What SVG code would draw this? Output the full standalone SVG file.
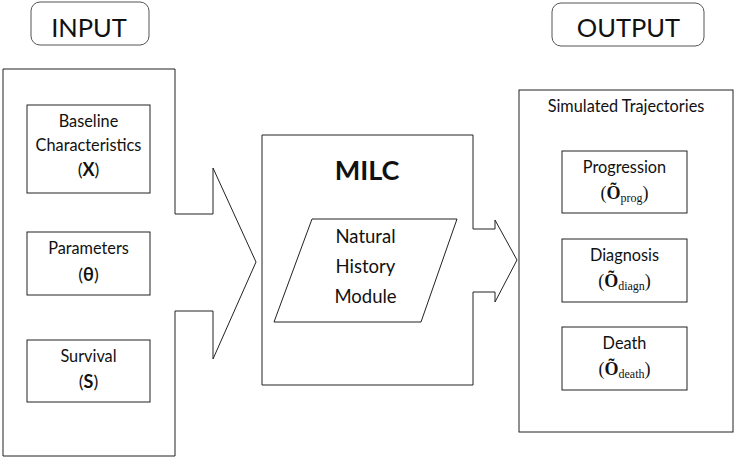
<svg xmlns="http://www.w3.org/2000/svg" width="734" height="462" viewBox="0 0 734 462">
<style>
  .ln { fill: #ffffff; stroke: #222222; stroke-width: 1; }
  .hd { fill: #ffffff; stroke: #555555; stroke-width: 1; }
  .t { font-family: Lato, "Noto Sans", "DejaVu Sans", sans-serif; font-size: 16.3px; fill: #111111; text-anchor: middle; }
  .big { font-size: 25.5px; }
  .nh { font-size: 18.5px; }
  .milc { font-size: 27px; font-weight: bold; }
  .b { font-weight: bold; }
  .p { font-size: 18px; }
  .m { font-family: "Liberation Serif", "DejaVu Serif", serif; font-size: 18px; fill: #111111; text-anchor: middle; }
  .sub { font-size: 12px; }
</style>
<rect width="734" height="462" fill="#ffffff"/>
<g id="connectors"/>
<g id="input-header">
  <rect class="hd" x="31" y="2" width="118" height="43" rx="9"/>
  <text class="t big" x="89" y="37">INPUT</text>
</g>
<g id="output-header">
  <rect class="hd" x="552" y="3" width="152" height="43" rx="9"/>
  <text class="t big" x="628.5" y="37">OUTPUT</text>
</g>
<g id="input">
  <polygon class="ln" points="3,69 175,69 175,214 213,214 213,168 256,262 213,359 213,311 175,311 175,456 3,456"/>
</g>
<g id="baseline">
  <rect class="ln" x="27" y="105" width="123" height="88"/>
  <text class="t" x="88.5" y="127">Baseline</text>
  <text class="t" x="88.5" y="151">Characteristics</text>
  <text class="t p" x="88.5" y="176">(<tspan class="b">X</tspan>)</text>
</g>
<g id="parameters">
  <rect class="ln" x="27" y="232" width="123" height="63"/>
  <text class="t" x="88.5" y="254">Parameters</text>
  <text class="t p" x="88.5" y="281">(<tspan class="b">θ</tspan>)</text>
</g>
<g id="survival">
  <rect class="ln" x="27" y="340" width="123" height="62"/>
  <text class="t" x="88.5" y="362">Survival</text>
  <text class="t p" x="88.5" y="388">(<tspan class="b">S</tspan>)</text>
</g>
<g id="milc">
  <polygon class="ln" points="262,135 473,135 473,229 495,229 495,220 517,260 495,302 495,292 473,292 473,385 262,385"/>
  <text class="t milc" x="367" y="180">MILC</text>
</g>
<g id="natural-history">
  <polygon class="ln" points="312,219 457,219 421,322 274,322"/>
  <text class="t nh" x="365.5" y="243">Natural</text>
  <text class="t nh" x="365.5" y="273">History</text>
  <text class="t nh" x="365.5" y="303">Module</text>
</g>
<g id="output">
  <rect class="ln" x="519" y="90" width="214" height="342"/>
  <text class="t" x="626" y="112">Simulated Trajectories</text>
</g>
<g id="progression">
  <rect class="ln" x="562" y="151" width="125" height="62"/>
  <text class="t" x="624.5" y="173">Progression</text>
  <text class="m" x="624.5" y="199">(<tspan class="b">Õ</tspan><tspan class="sub" dy="3">prog</tspan><tspan dy="-3">)</tspan></text>
</g>
<g id="diagnosis">
  <rect class="ln" x="562" y="239" width="125" height="63"/>
  <text class="t" x="624.5" y="261">Diagnosis</text>
  <text class="m" x="624.5" y="287">(<tspan class="b">Õ</tspan><tspan class="sub" dy="3">diagn</tspan><tspan dy="-3">)</tspan></text>
</g>
<g id="death">
  <rect class="ln" x="562" y="327" width="125" height="63"/>
  <text class="t" x="624.5" y="349">Death</text>
  <text class="m" x="624.5" y="375">(<tspan class="b">Õ</tspan><tspan class="sub" dy="3">death</tspan><tspan dy="-3">)</tspan></text>
</g>
</svg>
